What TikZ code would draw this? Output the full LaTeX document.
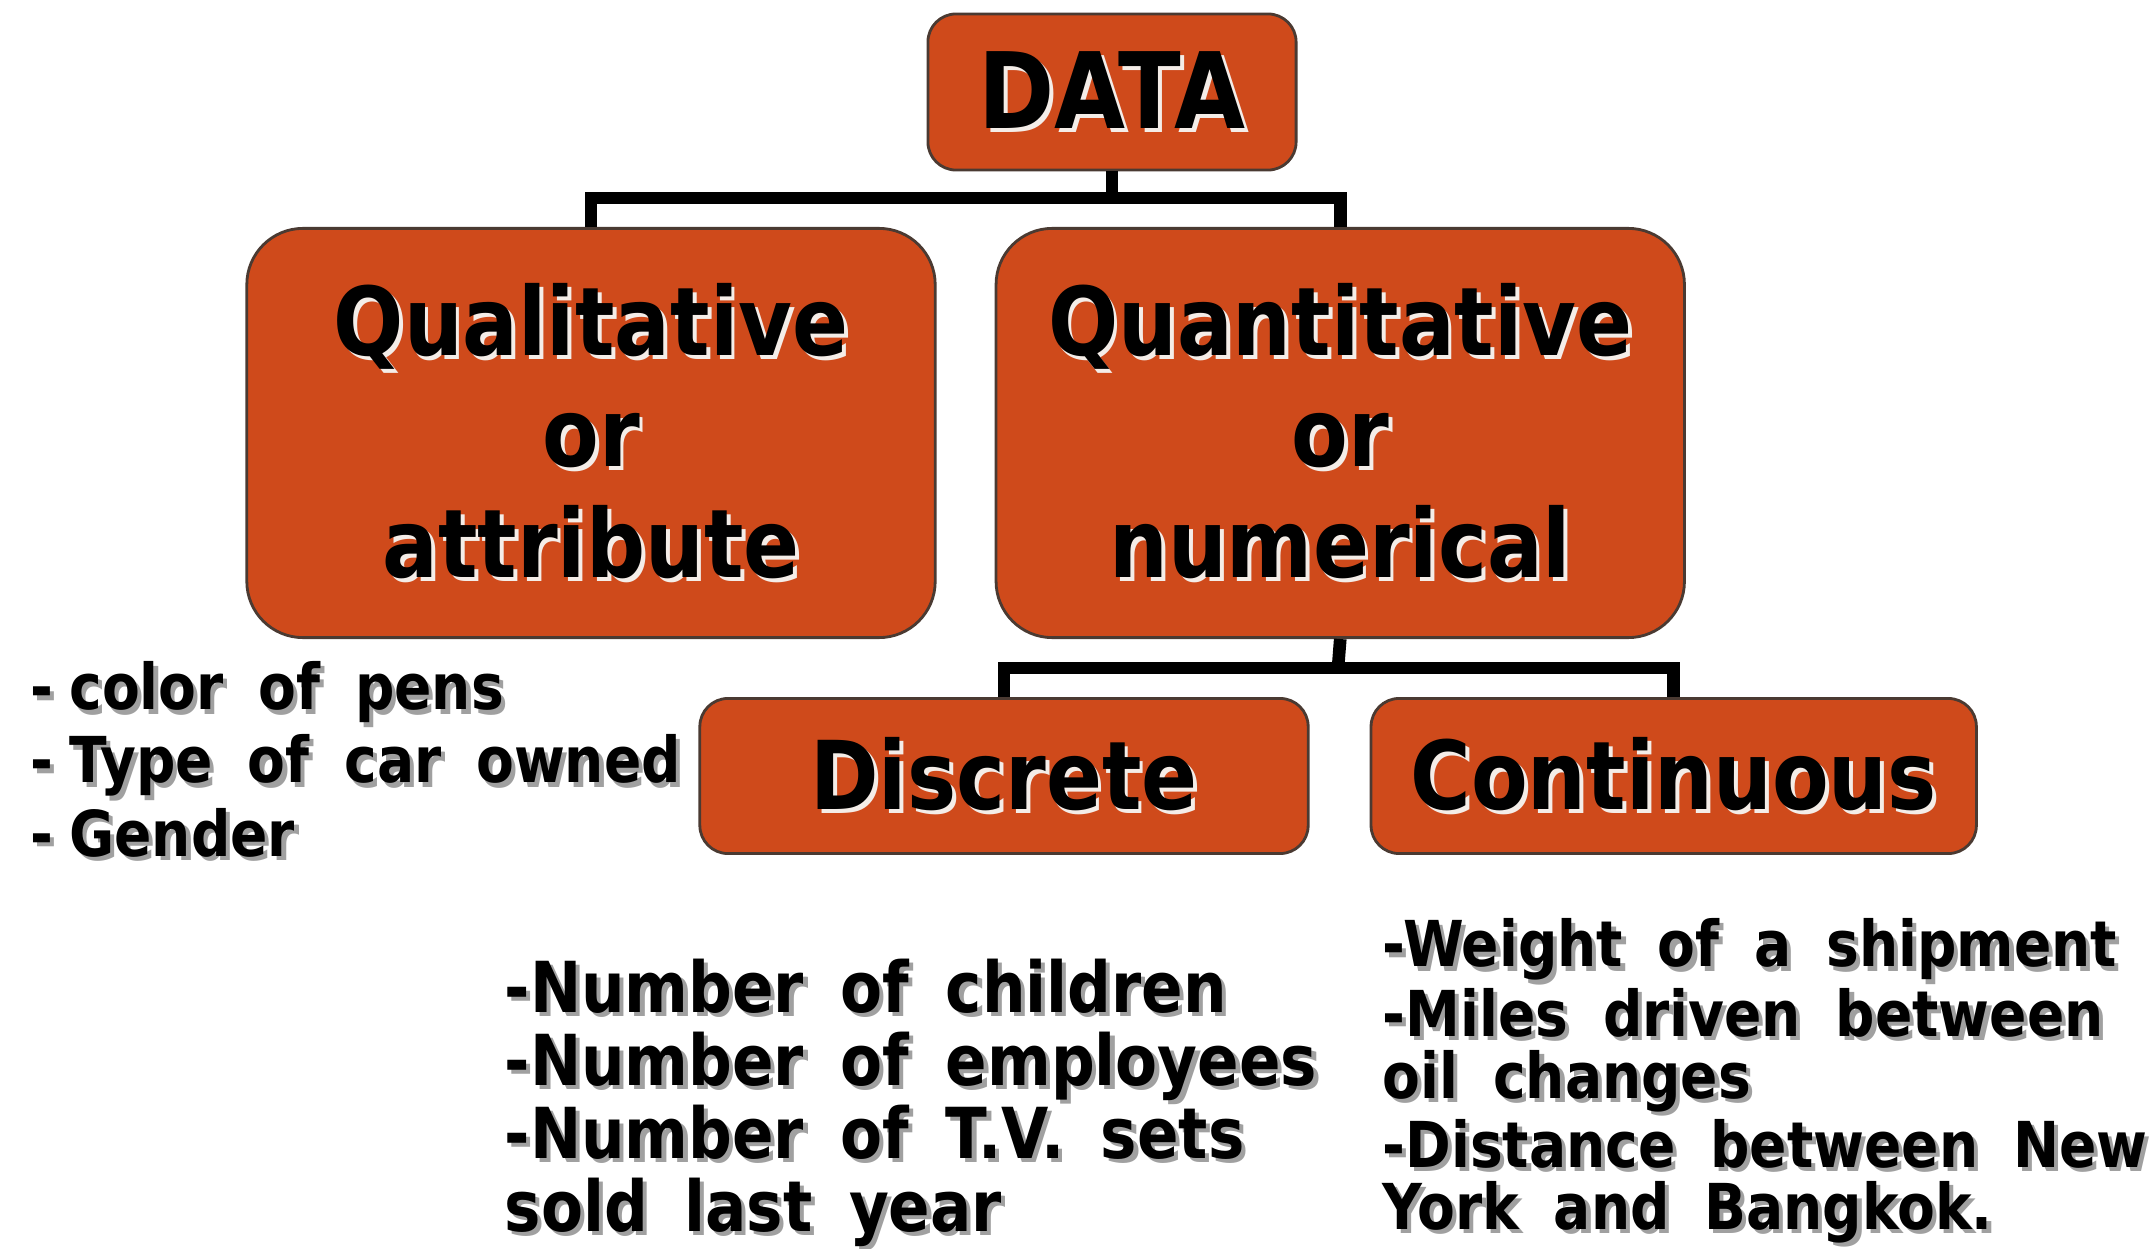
\documentclass[tikz,border=0pt]{standalone}
\usepackage{fontspec}
\setmainfont{DejaVu Sans}[FakeStretch=0.87]
\usepackage{xcolor}
\usepackage{tikz}
\usetikzlibrary{positioning}
\definecolor{brick}{HTML}{CF4A1B}
\definecolor{rim}{HTML}{4A3A32}
\definecolor{glow}{HTML}{F4EDE8}
\definecolor{smudge}{HTML}{A0A0A0}
\newcommand{\raised}[1]{\leavevmode\rlap{\hspace{1.1pt}\raisebox{-1.1pt}{\textcolor{glow}{#1}}}#1}
\newcommand{\smeared}[1]{\leavevmode\rlap{\hspace{1.2pt}\raisebox{-1.2pt}{\textcolor{smudge}{#1}}}#1}
\newcommand{\loosewords}{\spaceskip=0.55em\relax}
\newcommand{\snugwords}{\spaceskip=0.52em\relax}
\tikzset{
  box/.style={
    draw=rim, fill=brick, line width=0.8pt, align=center, inner sep=0pt,
    font=\bfseries\fontsize{27}{31.6}\selectfont},
  wide box/.style={box, minimum width=6.88cm, minimum height=4.09cm, rounded corners=16pt},
  flat box/.style={box, minimum width=6.07cm, minimum height=1.55cm, rounded corners=8pt},
  branch/.style={line width=3.6pt, line join=miter},
  example/.style={anchor=north west, align=left, inner sep=0pt,
    font=\bfseries\fontsize{18}{20.8}\selectfont\loosewords},
}

\begin{document}
\begin{tikzpicture}[x=0.01cm, y=-0.01cm]
  \useasboundingbox (0,0) rectangle (2152,1249);

  \node[box, minimum width=3.68cm, minimum height=1.56cm, rounded corners=8pt,
    font=\bfseries\fontsize{30}{34}\selectfont] (data)
    at (1112,92) {\raisebox{-1.5pt}{\raised{DATA}}};
  \node[wide box] (qual) at (591,433)
    {\raised{Qualitative}\\ \raised{or}\\ \raised{attribute}};
  \node[wide box, right=0.58cm of qual] (quant)
    {\raised{Quantitative}\\ \raised{or}\\ \raised{numerical}};
  \node[flat box, minimum width=6.08cm] (disc) at (1004,776) {\raised{Discrete}};
  \node[flat box, minimum width=6.05cm, right=0.60cm of disc] (cont) {\raised{Continuous}};

  % tree lines
  \coordinate (top bar) at (1112,198);
  \coordinate (low bar) at (1338,668);
  \draw[branch] (data.south) -- (top bar);
  \draw[branch] (qual.north) |- (top bar) -| (quant.north);
  \draw[branch] (quant.south) -- (low bar);
  \draw[branch] (disc.north) |- (low bar) -| (cont.north);

  % examples
  \node[example] (qual ex) at (30,661)
    {\smeared{-\hspace{.25em}color of pens}\\
     \smeared{-\hspace{.25em}Type of car owned}\\
     \smeared{-\hspace{.25em}Gender}};
  \node[example, font={\bfseries\fontsize{20}{20.8}\selectfont\snugwords}]
    (disc ex) at (504,958)
    {\smeared{-Number of children}\\
     \smeared{-Number of employees}\\
     \smeared{-Number of T.V. sets}\\
     \smeared{sold last year}};
  \node[example, font={\bfseries\fontsize{18}{17.6}\selectfont\loosewords}] (cont ex) at (1382,918)
    {\smeared{-Weight of a shipment}\\
     \smeared{-Miles driven between}\\
     \smeared{oil changes}\\
     \smeared{-Distance between New}\\
     \smeared{York and Bangkok.}};
\end{tikzpicture}
\end{document}
